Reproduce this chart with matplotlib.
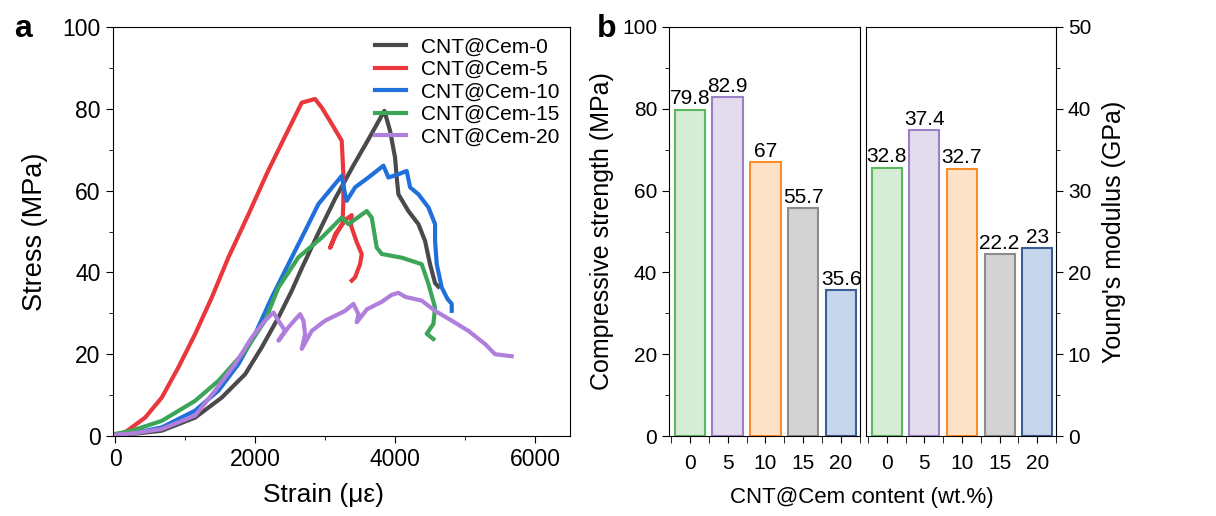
import numpy as np
import matplotlib.pyplot as plt
from matplotlib.ticker import MultipleLocator

plt.rcParams['font.family'] = ['Liberation Sans', 'DejaVu Sans']
plt.rcParams['font.size'] = 16.5

# ---- panel a: stress-strain curves ----
strain_0 = [0, 300, 667, 1143, 1524, 1858, 2096, 2334, 2524, 2667, 2900, 3143, 3400,
            3619, 3848, 3929, 4000, 4024, 4048, 4191, 4334, 4429, 4500, 4572, 4620]
stress_0 = [0.3, 0.6, 1.3, 4.5, 9.4, 15.1, 21.7, 29, 35.5, 41, 49.5, 58, 66,
            72.5, 79.5, 74.6, 68.1, 63.2, 59.1, 55, 51.8, 47.7, 42, 37.4, 36.5]

strain_5 = [0, 143, 429, 667, 905, 1143, 1382, 1620, 1900, 2191, 2450, 2667, 2857,
            2953, 3096, 3238, 3262, 3262, 3250, 3150, 3072, 3150, 3300, 3381, 3370,
            3450, 3524, 3500, 3429, 3381]
stress_5 = [0.3, 0.9, 4.5, 9.4, 16.8, 24.9, 33.9, 43.7, 54, 65, 74, 81.5, 82.4,
            80.3, 76.3, 72.2, 64, 57.5, 52, 49, 46, 49.5, 53, 54, 51.5,
            47.5, 44.5, 42, 38.8, 38]

strain_10 = [0, 300, 667, 1143, 1477, 1763, 2000, 2239, 2429, 2572, 2667, 2905, 3238,
             3286, 3310, 3429, 3619, 3834, 3905, 4048, 4167, 4215, 4334, 4477, 4572,
             4572, 4596, 4667, 4750, 4810, 4810]
stress_10 = [0.3, 0.8, 2.1, 6.2, 11.1, 17.6, 24.9, 33.9, 40.4, 45.3, 48.5, 56.7, 63.6,
             59.1, 57.5, 60.8, 63.2, 66.1, 63.2, 64, 64.8, 60.8, 59.1, 55.9, 51.8,
             47.7, 42, 36.3, 33.5, 32.3, 30.6]

strain_15 = [0, 239, 667, 1143, 1477, 1858, 2143, 2334, 2620, 2953, 3238, 3334, 3596,
             3667, 3738, 3810, 4096, 4381, 4477, 4572, 4548, 4453, 4548]
stress_15 = [0.5, 1.3, 3.7, 8.6, 13.5, 20.8, 28.2, 36.3, 43.7, 48.5, 53.4, 51.8, 55,
             53.4, 46.1, 44.5, 43.6, 42, 37.2, 31.4, 27.4, 25, 23.7]

strain_20 = [0, 239, 667, 1143, 1429, 1715, 1953, 2143, 2263, 2334, 2429, 2334, 2477,
             2643, 2691, 2715, 2667, 2810, 3001, 3287, 3405, 3477, 3453, 3600, 3810,
             3950, 4048, 4150, 4381, 4572, 4810, 5048, 5286, 5429, 5667]
stress_20 = [0.3, 0.6, 1.7, 5, 11.1, 17.6, 24.1, 28.2, 30.2, 28.2, 25.7, 23.3, 26.6,
             29.8, 28.2, 24.9, 21.3, 25.7, 28.2, 30.6, 32.3, 29.8, 27.8, 31, 32.8,
             34.5, 35, 34, 33.1, 30.6, 28.2, 25.7, 22.5, 20, 19.5]

curve_labels = ['CNT@Cem-0', 'CNT@Cem-5', 'CNT@Cem-10', 'CNT@Cem-15', 'CNT@Cem-20']
curve_colors = ['#4a4a4a', '#e8383d', '#2070dc', '#3ba558', '#b07fdc']

# ---- panel b: bars ----
contents = ['0', '5', '10', '15', '20']
strength = [79.8, 82.9, 67, 55.7, 35.6]
modulus = [32.8, 37.4, 32.7, 22.2, 23]
strength_labels = ['79.8', '82.9', '67', '55.7', '35.6']
modulus_labels = ['32.8', '37.4', '32.7', '22.2', '23']
fills = ['#d6edd5', '#e3dced', '#fde2c8', '#d3d3d3', '#c6d6ec']
edges = ['#5cb860', '#9b80c8', '#fb8c2a', '#8c8c8c', '#3d5d96']

fs_b = 15  # panel b text is a bit smaller/narrower than panel a

fig = plt.figure(figsize=(12.16, 5.16), dpi=100)
axa = fig.add_axes([113/1216, 80/516, 457/1216, 409/516])
axb1 = fig.add_axes([669/1216, 80/516, 191/1216, 409/516])
axb2 = fig.add_axes([866/1216, 80/516, 190/1216, 409/516])

xs = [strain_0, strain_5, strain_10, strain_15, strain_20]
ys = [stress_0, stress_5, stress_10, stress_15, stress_20]
for x, y, lab, c in zip(xs, ys, curve_labels, curve_colors):
    axa.plot(x, y, color=c, lw=3.0, label=lab, solid_joinstyle='round')

axa.set_xlim(-30, 6500)
axa.set_ylim(0, 100)
axa.xaxis.set_major_locator(MultipleLocator(2000))
axa.xaxis.set_minor_locator(MultipleLocator(1000))
axa.yaxis.set_major_locator(MultipleLocator(20))
axa.yaxis.set_minor_locator(MultipleLocator(10))
axa.tick_params(which='both', direction='out', top=False, right=False, pad=4)
axa.tick_params(which='major', length=5)
axa.tick_params(which='minor', length=3)
axa.set_xlabel('Strain (με)', fontsize=19)
axa.xaxis.set_label_coords(0.46, -0.115)
axa.set_ylabel('Stress (MPa)', fontsize=19.5, labelpad=10)
axa.legend(loc='upper right', frameon=False, fontsize=15, handlelength=1.5,
           handletextpad=0.7, labelspacing=0.17, borderaxespad=0.1)

pos = np.arange(len(contents))
for ax, vals, labs, top in [(axb1, strength, strength_labels, 100),
                            (axb2, modulus, modulus_labels, 50)]:
    ax.bar(pos, vals, width=0.8, color=fills, edgecolor=edges, linewidth=1.5)
    for p, v, t in zip(pos, vals, labs):
        ax.text(p, v + top * 0.003, t, ha='center', va='bottom', fontsize=fs_b)
    ax.set_xlim(-0.55, 4.5)
    ax.set_xticks(pos)
    ax.set_xticklabels(contents, fontsize=fs_b)
    ax.set_xticks(np.arange(-0.5, 5, 1), minor=True)
    ax.tick_params(axis='x', which='both', direction='out', length=5, pad=8)

axb1.set_ylim(0, 100)
axb1.yaxis.set_major_locator(MultipleLocator(20))
axb1.yaxis.set_minor_locator(MultipleLocator(10))
axb1.tick_params(axis='y', which='both', direction='out', right=False, labelsize=fs_b)
axb1.tick_params(axis='y', which='major', length=5)
axb1.tick_params(axis='y', which='minor', length=3)
axb1.set_ylabel('Compressive strength (MPa)', fontsize=18, labelpad=6)

axb2.set_ylim(0, 50)
axb2.yaxis.set_major_locator(MultipleLocator(10))
axb2.yaxis.set_minor_locator(MultipleLocator(5))
axb2.yaxis.tick_right()
axb2.yaxis.set_label_position('right')
axb2.tick_params(axis='y', which='both', direction='out', left=False, labelsize=fs_b)
axb2.tick_params(axis='y', which='major', length=5)
axb2.tick_params(axis='y', which='minor', length=3)
axb2.set_ylabel("Young's modulus (GPa)", fontsize=18, labelpad=8)

fig.text(862/1216, 19/516, 'CNT@Cem content (wt.%)', ha='center', va='center', fontsize=16)
fig.text(14/1216, 487/516, 'a', fontsize=23, fontweight='bold', va='center')
fig.text(597/1216, 487/516, 'b', fontsize=23, fontweight='bold', va='center')

fig.savefig('out.png', dpi=100)
